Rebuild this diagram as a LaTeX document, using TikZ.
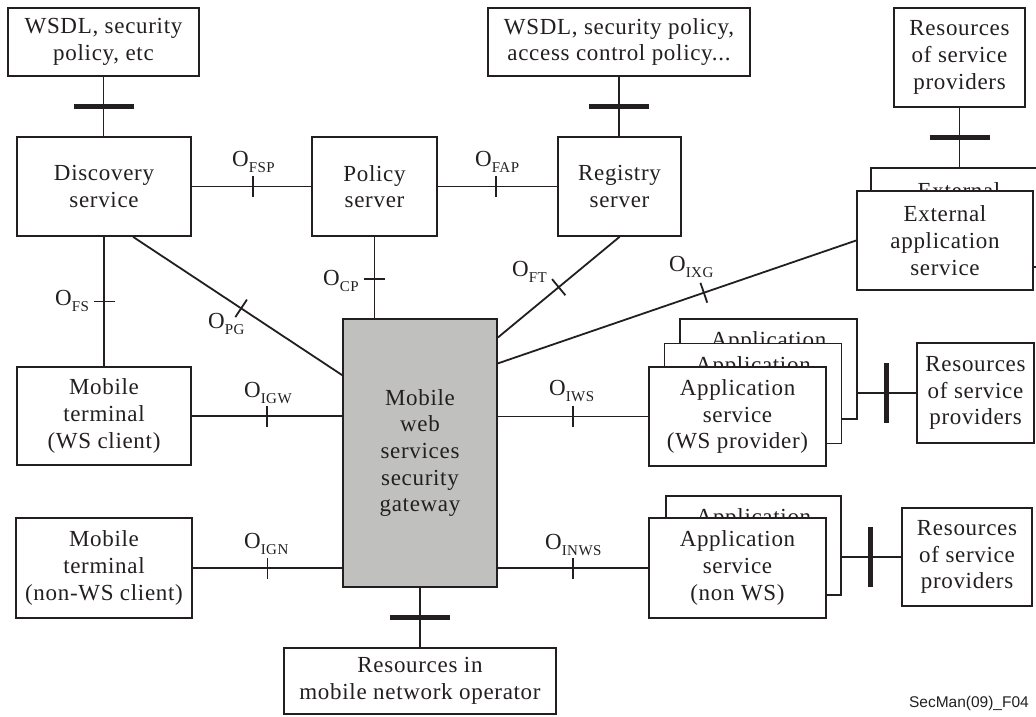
\documentclass[tikz,border=0pt]{standalone}
\usepackage{fontspec}
\setmainfont{Liberation Serif}[LetterSpace=3]
\newfontfamily\labelsans{Liberation Sans}
\usetikzlibrary{decorations.markings}
\definecolor{ink}{RGB}{35,31,32}
\definecolor{gwgray}{RGB}{192,192,190}
% interface reference point: O with a lowered, smaller suffix
\newcommand\iface[1]{O\raisebox{-6pt}{\fontsize{15}{15}\selectfont #1}}

\begin{document}
\begin{tikzpicture}[x=1pt, y=-1pt,
  box/.style={draw=ink, line width=1.8pt, fill=white, text=ink, align=center,
    inner sep=0pt, font=\fontsize{23}{26.7}\selectfont},
  conn/.style={draw=ink, line width=1.8pt},
  thintick/.style={postaction={decorate, decoration={markings,
    mark=at position #1 with {\draw[ink, line width=1.8pt] (0pt,-10.5pt) -- (0pt,10.5pt);}}}},
  thickbar/.style={postaction={decorate, decoration={markings,
    mark=at position #1 with {\draw[ink, line width=5pt] (0pt,-30pt) -- (0pt,30pt);}}}},
  lbl/.style={text=ink, anchor=base west, inner sep=0pt, font=\fontsize{23}{26}\selectfont}]

\useasboundingbox (0,0) rectangle (1036,717);
\clip (0,0) rectangle (1036,717);

% ---- top row ----
\node[box, minimum width=191pt, minimum height=68pt] (wsdlA) at (103.5,42) {WSDL, security\\policy, etc};
\node[box, minimum width=262pt, minimum height=68pt] (wsdlB) at (619,42) {WSDL, security policy,\\access control policy...};
\node[box, minimum width=131pt, minimum height=99pt] (resTop) at (959.5,57.5) {Resources\\of service\\providers};

\node[box, minimum width=174pt, minimum height=99pt] (disc) at (104,186.5) {Discovery\\service};
\node[box, minimum width=125pt, minimum height=99pt] (policy) at (374.5,186.5) {Policy\\server};
\node[box, minimum width=123pt, minimum height=99pt] (registry) at (619.5,186.5) {Registry\\server};

% external application service (stacked)
\node[box, minimum width=176pt, minimum height=99pt] (extBack) at (959,217.5) {External\\application\\service};
\node[box, minimum width=176pt, minimum height=99pt] (extFront) at (945,240.5) {External\\application\\service};

% ---- gateway ----
\node[box, fill=gwgray, minimum width=154pt, minimum height=268pt] (gw) at (420,453)
  {Mobile\\web\\services\\security\\gateway};

% ---- terminals ----
\node[box, minimum width=174pt, minimum height=98pt] (mtWS) at (104,416) {Mobile\\terminal\\(WS client)};
\node[box, minimum width=176pt, minimum height=100pt] (mtNon) at (104,568) {Mobile\\terminal\\(non-WS client)};

% ---- application services (WS), stacked ----
\node[box, minimum width=177pt, minimum height=100pt] (appWSb2) at (768.5,369) {Application\\service\\(WS provider)};
\node[box, minimum width=177pt, minimum height=100pt] (appWSb1) at (753,393.5) {Application\\service\\(WS provider)};
\node[box, minimum width=177pt, minimum height=99pt] (appWS) at (737.5,416.5) {Application\\service\\(WS provider)};
\node[box, minimum width=117pt, minimum height=100pt] (resWS) at (975.5,393) {Resources\\of service\\providers};

% ---- application services (non WS), stacked ----
\node[box, minimum width=175pt, minimum height=99pt] (appNb) at (753.5,545.5) {Application\\service\\(non WS)};
\node[box, minimum width=177pt, minimum height=100pt] (appN) at (737.5,568) {Application\\service\\(non WS)};
\node[box, minimum width=130pt, minimum height=98pt] (resN) at (967,557) {Resources\\of service\\providers};

% ---- operator resources ----
\node[box, minimum width=272pt, minimum height=66pt] (resMNO) at (420,681) {Resources in\\mobile network operator};

% ---- resource links (thick bars) ----
\draw[conn, thickbar=.5] (wsdlA.south) -- (wsdlA.south |- disc.north);
\draw[conn, thickbar=.5] (wsdlB.south) -- (wsdlB.south |- registry.north);
\draw[conn, thickbar=.5] (resTop.south) -- (resTop.south |- extBack.north);
\draw[conn, thickbar=.483] (appWSb2.east |- resWS.west) -- (resWS.west);
\draw[conn, thickbar=.49] (appNb.east |- resN.west) -- (resN.west);
\draw[conn, thickbar=.508] (gw.south) -- (resMNO.north);

% ---- interfaces (thin ticks) ----
\draw[conn, thintick=.512] (disc) -- (policy);
\draw[conn, thintick=.488] (policy) -- (registry);
\draw[conn, thintick=.5] (disc.south) -- (disc.south |- mtWS.north);
\draw[conn, thintick=.517] (disc.-60.5) -- (gw.135);
\draw[conn, thintick=.52] (policy.south) -- (policy.south |- gw.north);
\draw[conn, thintick=.5] (registry.south) -- (gw.56.4);
\draw[conn, thintick=.575] (gw.49.8) -- (extFront.west);
\draw[conn, thintick=.5] (mtWS.east) -- (mtWS.east -| gw.west);
\draw[conn, thintick=.5] (appWS.west -| gw.east) -- (appWS.west);
\draw[conn, thintick=.5] (mtNon.east) -- (mtNon.east -| gw.west);
\draw[conn, thintick=.5] (appN.west -| gw.east) -- (appN.west);

% ---- interface labels ----
\node[lbl] (lFSP) at (232,166) {\iface{FSP}};
\node[lbl] (lFAP) at (475,166) {\iface{FAP}};
\node[lbl] (lCP) at (323,285) {\iface{CP}};
\node[lbl] (lFT) at (512,276) {\iface{FT}};
\node[lbl] (lIXG) at (669,271) {\iface{IXG}};
\node[lbl] (lFS) at (55,305) {\iface{FS}};
\node[lbl] (lPG) at (208,328) {\iface{PG}};
\node[lbl] (lIGW) at (244,397) {\iface{IGW}};
\node[lbl] (lIWS) at (549,395) {\iface{IWS}};
\node[lbl] (lIGN) at (244,548) {\iface{IGN}};
\node[lbl] (lINWS) at (545,549) {\iface{INWS}};

% figure tag
\node[text=ink, anchor=base east, inner sep=0pt, font=\labelsans\fontsize{15.5}{16}\selectfont] (tag) at (1029,707) {SecMan(09)\_F04};
\end{tikzpicture}
\end{document}
